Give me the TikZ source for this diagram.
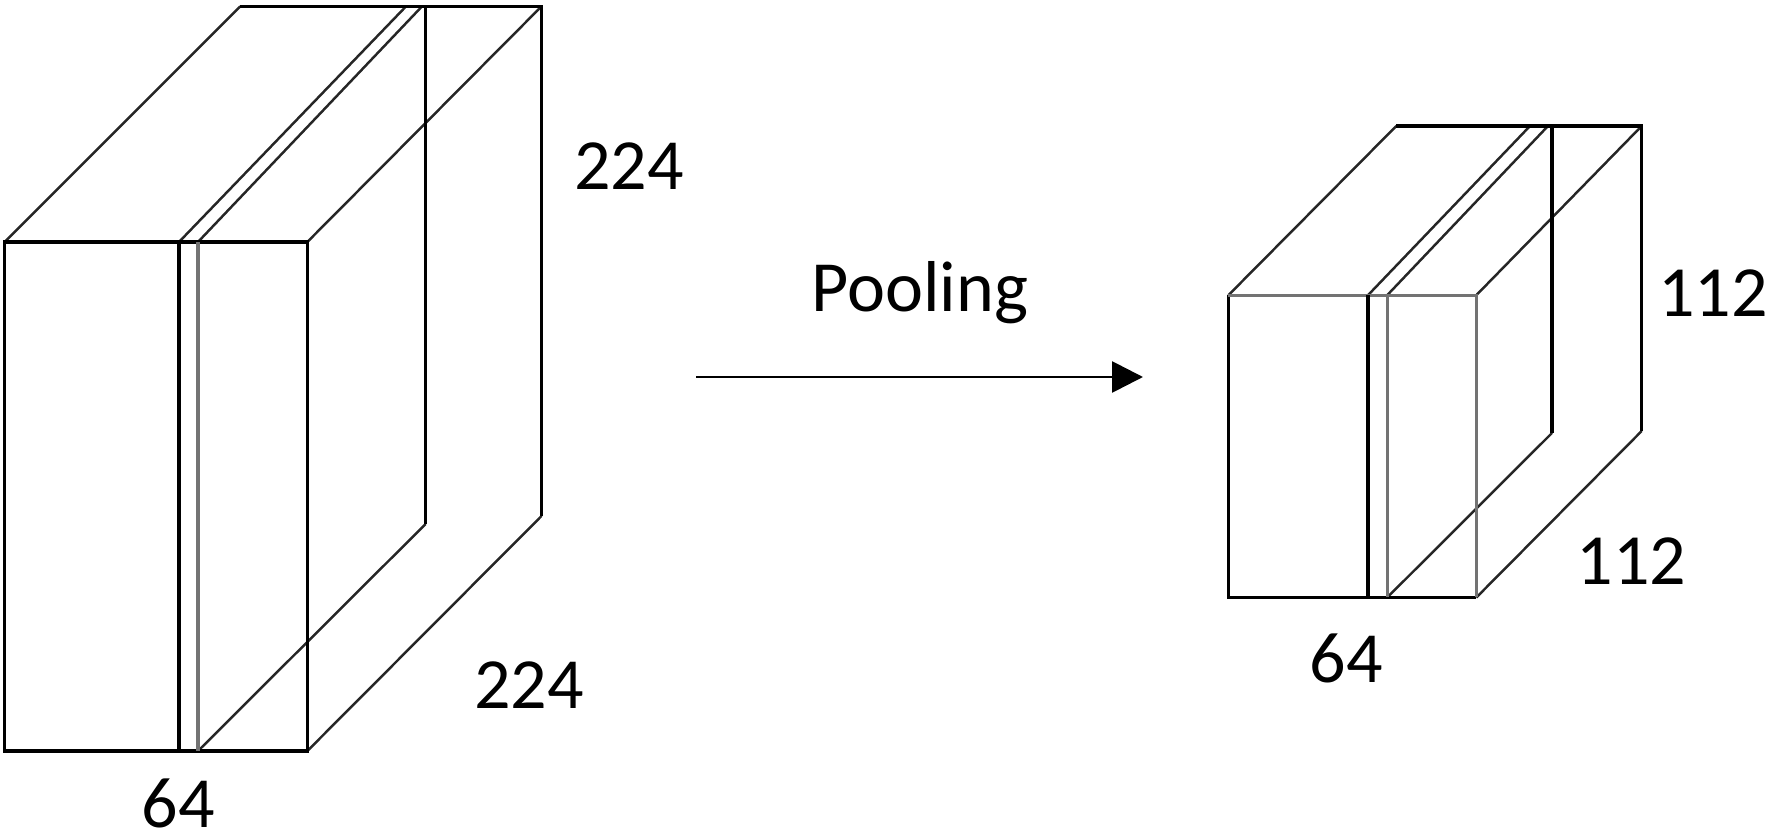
\documentclass[tikz,border=0pt]{standalone}
\usepackage{fontspec}
\setmainfont{Carlito}
\usetikzlibrary{arrows.meta}
\begin{document}
\begin{tikzpicture}[x=0.1mm,y=-0.1mm,
  edge/.style={line width=0.9pt, black},
  softedge/.style={line width=0.9pt, black!55},
  depth/.style={line width=0.7pt, black!85},
  lbl/.style={font=\fontsize{20.5}{24}\selectfont, inner sep=0pt},
  flow/.style={line width=0.8pt, black, -{Triangle[length=3.1mm,width=3.1mm]}},
]
\useasboundingbox (0,0) rectangle (1770,834);
% ---------- left block ----------
\coordinate (Lftl) at (4.6,242);
\coordinate (Lftr) at (307.3,242);
\coordinate (Lfbr) at (307.3,751);
\coordinate (Lfbl) at (4.6,751);
\coordinate (Lbtl) at (240.3,6.4);
\coordinate (Lbtr) at (541.5,6.4);
\coordinate (Lbbr) at (541.5,516);
\coordinate (Ls1t) at (179,242);
\coordinate (Ls1b) at (179,751);
\coordinate (Ls2t) at (198,242);
\coordinate (Ls2b) at (198,751);
\coordinate (Ls1k) at (406,6.4);
\coordinate (Ls2k) at (422,6.4);
\coordinate (Lskt) at (425.6,6.4);
\coordinate (Lskb) at (425.6,524);
% depth edges
\draw[depth] (Lftl) -- (Lbtl);
\draw[depth] (Lftr) -- (Lbtr);
\draw[depth] (Lfbr) -- (Lbbr);
\draw[depth] (Ls1t) -- (Ls1k);
\draw[depth] (Ls2t) -- (Ls2k);
\draw[depth] (Ls2b) -- (Lskb);
% back edges
\draw[edge] (Lbtl) -- (Lbtr) -- (Lbbr);
\draw[edge] (Lskt) -- (Lskb);
% front face
\draw[edge] (Lftl) rectangle (Lfbr);
\draw[edge] (Ls1t) -- (Ls1b);
\draw[softedge] (Ls2t) -- (Ls2b);
% ---------- right block ----------
\coordinate (Rftl) at (1228.4,295.2);
\coordinate (Rftr) at (1476.3,295.2);
\coordinate (Rfbr) at (1476.3,597.5);
\coordinate (Rfbl) at (1228.4,597.5);
\coordinate (Rbtl) at (1396.3,126);
\coordinate (Rbtr) at (1641.7,126);
\coordinate (Rbbr) at (1641.7,431);
\coordinate (Rs1t) at (1368,295.2);
\coordinate (Rs1b) at (1368,597.5);
\coordinate (Rs2t) at (1387.2,295.2);
\coordinate (Rs2b) at (1387.2,597.5);
\coordinate (Rs1k) at (1530,126);
\coordinate (Rs2k) at (1548,126);
\coordinate (Rskt) at (1552,126);
\coordinate (Rskb) at (1552,433);
\draw[depth] (Rftl) -- (Rbtl);
\draw[depth] (Rftr) -- (Rbtr);
\draw[depth] (Rfbr) -- (Rbbr);
\draw[depth] (Rs1t) -- (Rs1k);
\draw[depth] (Rs2t) -- (Rs2k);
\draw[depth] (Rs2b) -- (Rskb);
\draw[edge] (Rbtl) -- (Rbtr) -- (Rbbr);
\draw[edge] (Rskt) -- (Rskb);
\draw[edge] (Rfbr) -- (Rfbl) -- (Rftl);
\draw[softedge] (Rftl) -- (Rftr) -- (Rfbr);
\draw[edge] (Rs1t) -- (Rs1b);
\draw[softedge] (Rs2t) -- (Rs2b);
% ---------- labels ----------
\node[lbl] (lh) at (629,166.5) {224};
\node[lbl] (ld) at (529,685) {224};
\node[lbl] (lw) at (178.5,803) {64};
\node[lbl] (rh) at (1713,293.4) {112};
\node[lbl] (rd) at (1631.5,561) {112};
\node[lbl] (rw) at (1346,658) {64};
\node[lbl, anchor=base] (pool) at (920,311.7) {Pooling};
% ---------- arrow ----------
\coordinate (arrS) at (696,377);
\coordinate (arrE) at (1143,377);
\draw[flow] (arrS) -- (arrE);
\end{tikzpicture}
\end{document}
